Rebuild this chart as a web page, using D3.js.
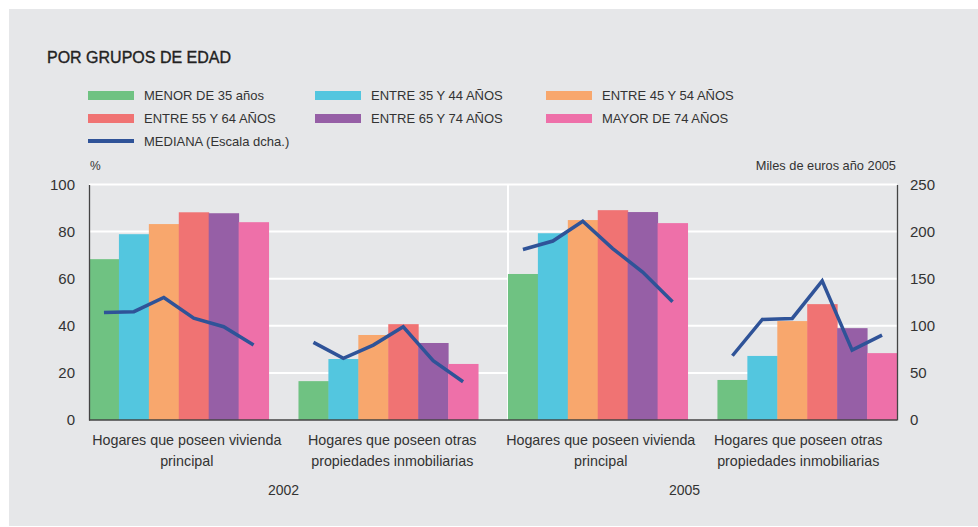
<!DOCTYPE html>
<html><head><meta charset="utf-8">
<script src="https://cdn.jsdelivr.net/npm/d3@7"></script>
<style>
html,body{margin:0;padding:0;background:#fff;}
svg{display:block;font-family:"Liberation Sans",Arial,sans-serif;}
</style></head>
<body><svg id="c" width="978" height="527"></svg>
<script>
const categories = ["Hogares que poseen vivienda principal","Hogares que poseen otras propiedades inmobiliarias","Hogares que poseen vivienda principal","Hogares que poseen otras propiedades inmobiliarias"];
const categoryLines = [["Hogares que poseen vivienda","principal"],["Hogares que poseen otras","propiedades inmobiliarias"],["Hogares que poseen vivienda","principal"],["Hogares que poseen otras","propiedades inmobiliarias"]];
const years = ["2002","2005"];
const seriesNames = ["MENOR DE 35 años","ENTRE 35 Y 44 AÑOS","ENTRE 45 Y 54 AÑOS","ENTRE 55 Y 64 AÑOS","ENTRE 65 Y 74 AÑOS","MAYOR DE 74 AÑOS"];
const lineName = "MEDIANA (Escala dcha.)";
const menor35 = [68.3, 16.5, 62.0, 17.0];
const entre35_44 = [78.9, 25.9, 79.3, 27.2];
const entre45_54 = [83.2, 36.1, 84.9, 42.0];
const entre55_64 = [88.2, 40.7, 89.1, 49.2];
const entre65_74 = [87.8, 32.7, 88.3, 39.0];
const mayor74 = [84.0, 23.8, 83.6, 28.4];
const mediana = [
  [114, 115, 130, 108, 99, 79.5],
  [82.4, 65.4, 79.5, 99, 62.9, 40.6],
  [181, 190, 211, 182, 157, 125.5],
  [68.2, 106.8, 107.8, 147.7, 74.2, 90.1]
];
const leftTicks = [0,20,40,60,80,100];
const rightTicks = [0,50,100,150,200,250];
const colors = ["#6fc282","#53c6df","#f8a76d","#f07373","#965fa6","#ee70a9"];
const lineColor = "#2f5398";

const series = [menor35, entre35_44, entre45_54, entre55_64, entre65_74, mayor74];
const svg = d3.select("#c");
const textColor = "#333";

svg.append("rect").attr("x",9).attr("y",9).attr("width",969).attr("height",517).attr("fill","#e6e7e9");

const L = 89, R = 897, T = 184.5, B = 420;
const x0 = d3.scaleBand().domain(d3.range(categories.length)).range([L,R]).paddingInner(1/7).paddingOuter(0);
const x1 = d3.scaleBand().domain(d3.range(seriesNames.length)).range([0,x0.bandwidth()]);
const yL = d3.scaleLinear().domain([0,100]).range([B,T]);
const yR = d3.scaleLinear().domain([0,250]).range([B,T]);

// title
svg.append("text").attr("x",47).attr("y",63).text("POR GRUPOS DE EDAD")
  .attr("font-size",16).attr("fill","#222").attr("stroke","#222").attr("stroke-width",0.35);

// legend
const legItems = seriesNames.map((n,i)=>({n, c:colors[i], line:false})).concat([{n:lineName,c:lineColor,line:true}]);
const colX = [88, 315, 546];
const rowY = [95.5, 118.5, 141];
legItems.forEach((d,i)=>{
  const cx = colX[i%3], cy = rowY[Math.floor(i/3)];
  if(d.line){
    svg.append("rect").attr("x",cx).attr("y",cy-2).attr("width",46).attr("height",4).attr("fill",d.c);
  } else {
    svg.append("rect").attr("x",cx).attr("y",cy-4.5).attr("width",46).attr("height",9).attr("fill",d.c);
  }
  svg.append("text").attr("x",cx+56).attr("y",cy+4.5).text(d.n).attr("font-size",13).attr("fill",textColor);
});

// gridlines
svg.append("g").selectAll("line").data(leftTicks.filter(t=>t>0)).join("line")
  .attr("x1",L).attr("x2",R).attr("y1",d=>yL(d)).attr("y2",d=>yL(d))
  .attr("stroke","#fff").attr("stroke-width",2);
// vertical separator between years
svg.append("line").attr("x1",x0(2)).attr("x2",x0(2)).attr("y1",T).attr("y2",B)
  .attr("stroke","#fff").attr("stroke-width",2);

// bars
categories.forEach((c,gi)=>{
  const g = svg.append("g").attr("transform",`translate(${x0(gi)},0)`);
  g.selectAll("rect").data(series.map((s,si)=>({si, v:s[gi]}))).join("rect")
    .attr("x",d=>x1(d.si)).attr("width",x1.bandwidth()+0.5)
    .attr("y",d=>yL(d.v)).attr("height",d=>B-yL(d.v)).attr("fill",d=>colors[d.si]);
});

// lines
mediana.forEach((vals,gi)=>{
  const pts = vals.map((v,i)=>[x0(gi)+x1(i)+x1.bandwidth()/2, yR(v)]);
  svg.append("path").attr("d",d3.line()(pts)).attr("fill","none")
    .attr("stroke",lineColor).attr("stroke-width",3.5).attr("stroke-linejoin","miter");
});

// axes
const axL = svg.append("g").attr("transform",`translate(${L},0)`)
  .call(d3.axisLeft(yL).tickValues(leftTicks).tickSize(0).tickPadding(14));
const axR = svg.append("g").attr("transform",`translate(${R},0)`)
  .call(d3.axisRight(yR).tickValues(rightTicks).tickSize(0).tickPadding(13));
[axL,axR].forEach(a=>{
  a.select(".domain").attr("stroke","#444").attr("stroke-width",1.3);
  a.selectAll("text").attr("font-size",15).attr("fill",textColor).attr("font-family","Liberation Sans, Arial, sans-serif");
});
svg.append("line").attr("x1",L).attr("x2",R).attr("y1",B).attr("y2",B).attr("stroke","#444").attr("stroke-width",1.3);

// axis titles
svg.append("text").attr("x",90).attr("y",170).text("%").attr("font-size",12).attr("fill",textColor);
svg.append("text").attr("x",896).attr("y",170).attr("text-anchor","end").text("Miles de euros año 2005").attr("font-size",12.8).attr("fill",textColor);

// category labels
const labelShift = [8, 4, 3, -9];
categoryLines.forEach((ls,gi)=>{
  const cx = x0(gi)+x0.bandwidth()/2 + labelShift[gi];
  ls.forEach((l,li)=>{
    svg.append("text").attr("x",cx).attr("y",445+li*21).attr("text-anchor","middle")
      .text(l).attr("font-size",14.3).attr("fill",textColor);
  });
});
// years
const yearX = [(x0(0)+x0(1)+x0.bandwidth())/2, (x0(2)+x0(3)+x0.bandwidth())/2 - 18];
years.forEach((y,i)=>{
  svg.append("text").attr("x",yearX[i]).attr("y",495).attr("text-anchor","middle").text(y)
    .attr("font-size",14).attr("fill",textColor);
});
</script></body></html>
